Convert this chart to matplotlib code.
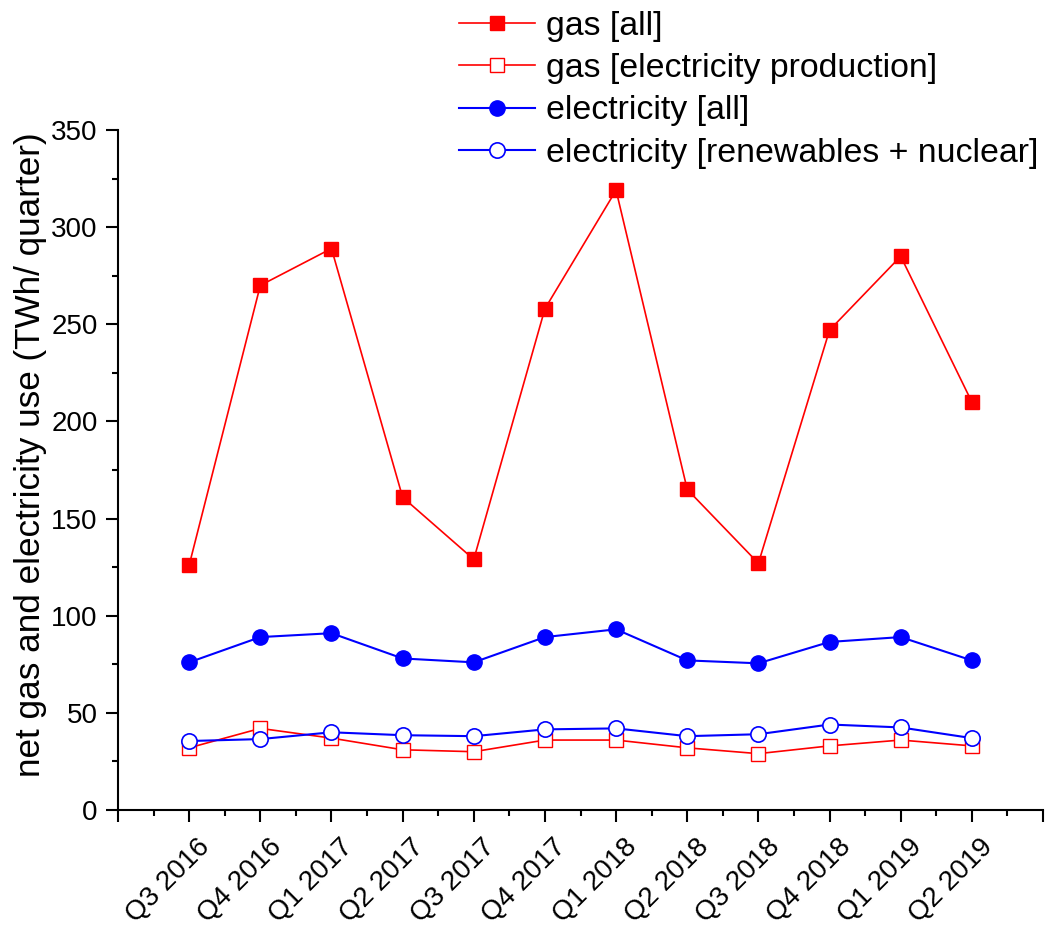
import matplotlib
matplotlib.use("Agg")
import matplotlib.pyplot as plt
from matplotlib.ticker import MultipleLocator, FixedLocator
from matplotlib.transforms import ScaledTranslation

plt.rcParams['font.family'] = ['Liberation Sans', 'DejaVu Sans']

quarters = ["Q3 2016", "Q4 2016", "Q1 2017", "Q2 2017", "Q3 2017", "Q4 2017",
            "Q1 2018", "Q2 2018", "Q3 2018", "Q4 2018", "Q1 2019", "Q2 2019"]
gas_all = [126, 270, 289, 161, 129, 258, 319, 165, 127, 247, 285, 210]
gas_electricity = [32, 42, 37, 31, 30, 36, 36, 32, 29, 33, 36, 33]
electricity_all = [76, 89, 91, 78, 76, 89, 93, 77, 75.5, 86.5, 89, 77]
electricity_renew_nuclear = [35.5, 36.5, 40, 38.5, 38, 41.5, 42, 38, 39, 44, 42.5, 37]

RED = "#FF0000"
BLUE = "#0000FF"
TICK_FS = 20
LABEL_FS = 25.3
LEGEND_FS = 24.4

fig = plt.figure(figsize=(10.46, 9.27), dpi=100)
ax = fig.add_axes([118/1046, 1 - 810/927, (1043-118)/1046, (810-130)/927])

x = list(range(1, len(quarters) + 1))
ax.plot(x, gas_all, color=RED, lw=1.2, marker='s', ms=9.5, mfc=RED, mec=RED,
        label="gas [all]")
ax.plot(x, gas_electricity, color=RED, lw=1.2, marker='s', ms=10, mfc='white', mec=RED,
        mew=1.0, label="gas [electricity production]")
ax.plot(x, electricity_all, color=BLUE, lw=1.5, marker='o', ms=11, mfc=BLUE, mec=BLUE,
        label="electricity [all]")
ax.plot(x, electricity_renew_nuclear, color=BLUE, lw=1.5, marker='o', ms=11, mfc='white',
        mec=BLUE, mew=1.2, label="electricity [renewables + nuclear]")

ax.set_xlim(0, 13)
ax.set_ylim(0, 350)
ax.xaxis.set_major_locator(FixedLocator(range(0, 14)))
ax.xaxis.set_minor_locator(FixedLocator([i + 0.5 for i in range(13)]))
ax.set_xticklabels([""] + quarters + [""])
ax.yaxis.set_major_locator(MultipleLocator(50))
ax.yaxis.set_minor_locator(MultipleLocator(25))

ax.tick_params(axis='both', which='major', length=8.6, width=1.5, labelsize=TICK_FS,
               direction='out', pad=6)
ax.tick_params(axis='both', which='minor', length=4.3, width=1.5, direction='out')

shift = ScaledTranslation(8/100, -4/100, fig.dpi_scale_trans)
for lab in ax.get_xticklabels():
    lab.set_rotation(45)
    lab.set_ha('right')
    lab.set_va('top')
    lab.set_rotation_mode('anchor')
    lab.set_transform(lab.get_transform() + shift)

for side in ('top', 'right'):
    ax.spines[side].set_visible(False)
for side in ('left', 'bottom'):
    ax.spines[side].set_linewidth(1.5)

ax.set_ylabel("net gas and electricity use (TWh/ quarter)", fontsize=LABEL_FS)
ax.yaxis.set_label_coords((47 - 118) / 925, 0.522)

ax.legend(loc='upper left', bbox_to_anchor=(459/1046, 1 - 11/927),
          bbox_transform=fig.transFigure, frameon=False, fontsize=LEGEND_FS,
          handlelength=2.24, handletextpad=0.32, labelspacing=0.33,
          borderpad=0, borderaxespad=0)

fig.savefig("out.png", dpi=100)
